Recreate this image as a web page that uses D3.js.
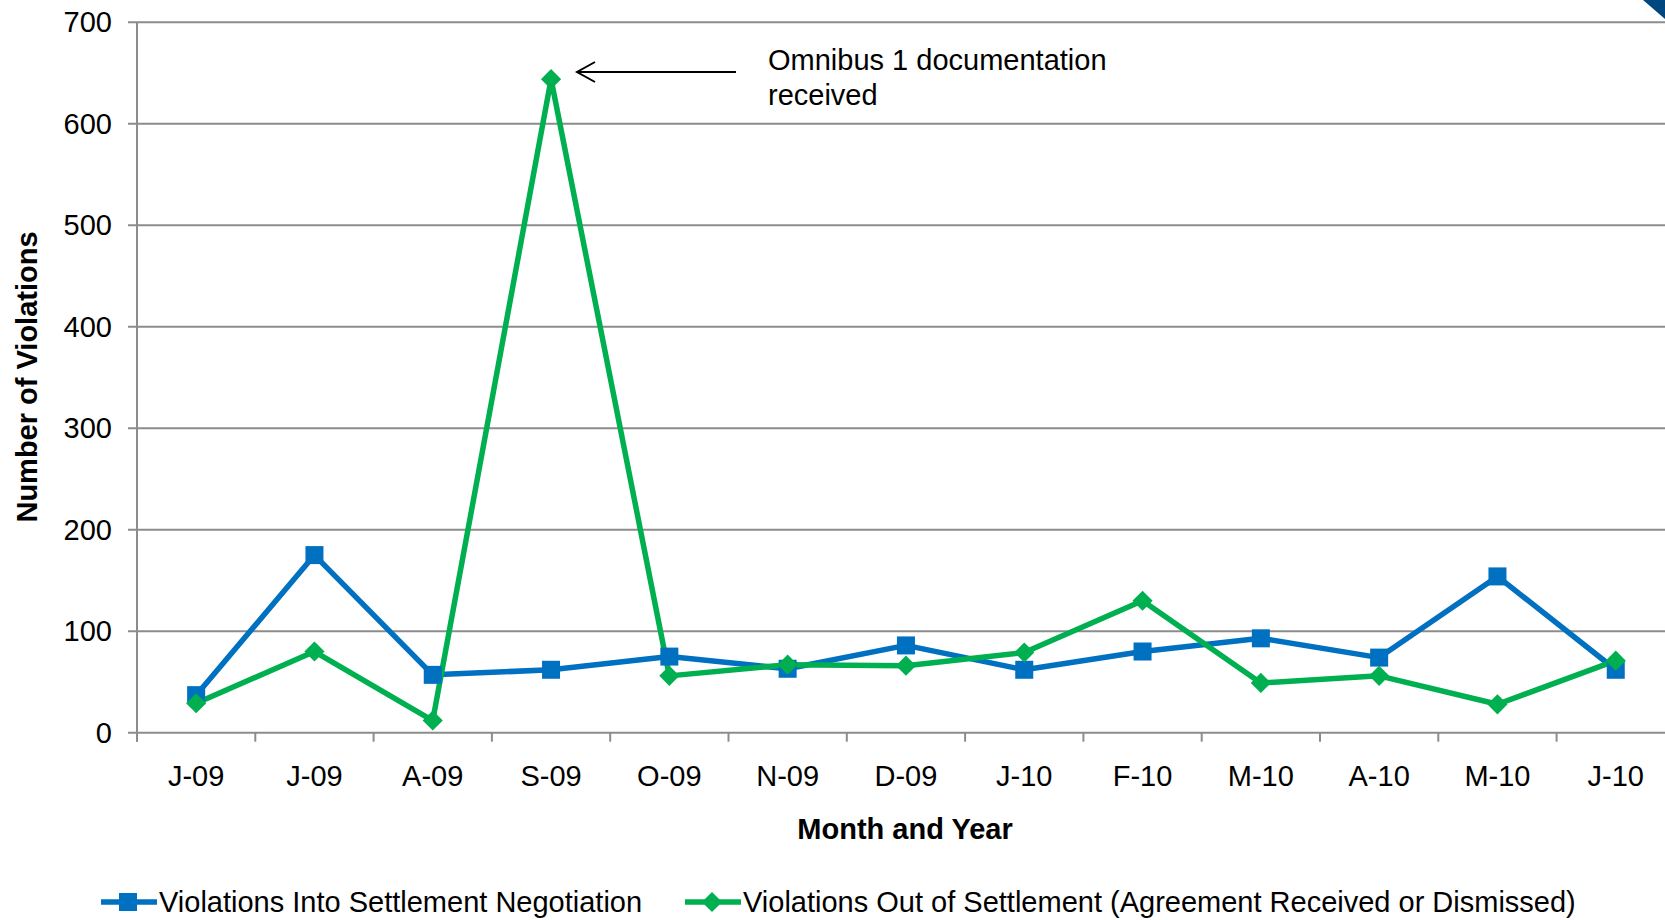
<!DOCTYPE html>
<html lang="en">
<head>
  <meta charset="utf-8">
  <title>Violations</title>
  <script type="text/javascript" src="https://cdn.jsdelivr.net/npm/d3@7/dist/d3.min.js"></script>
  <style>
    body { margin: 0; background: #fff; }
    text { font-family: "Liberation Sans", Arial, sans-serif; fill: #000; }
  </style>
</head>
<body>
  <script type="text/javascript">

  // month labels (Excel style short labels)
  var months = ["J-09", "J-09", "A-09", "S-09", "O-09", "N-09", "D-09",
                "J-10", "F-10", "M-10", "A-10", "M-10", "J-10"];
  var intoSettlement = [37, 175, 57, 62, 75, 63, 86, 62, 80, 93, 74, 154, 62];
  var outOfSettlement = [29, 80, 12, 644, 56, 67, 66, 79, 130, 49, 56, 28, 71];
  var yTicks = [0, 100, 200, 300, 400, 500, 600, 700];
  var seriesNames = ["Violations Into Settlement Negotiation",
                     "Violations Out of Settlement (Agreement Received or Dismissed)"];
  var colors = ["#0070C0", "#00B050"];

  var width = 1665, height = 920;
  var plotLeft = 137, plotTop = 22.3, plotBottom = 732.7;
  var band = 118.3;

  var svg = d3.select("body").append("svg")
    .attr("width", width)
    .attr("height", height);

  var idx = d3.range(months.length);
  var x = d3.scaleBand()
    .domain(idx)
    .range([plotLeft, plotLeft + band * months.length]);
  var y = d3.scaleLinear()
    .domain([0, 700])
    .range([plotBottom, plotTop]);
  var cx = function(i) { return x(i) + x.bandwidth() / 2; };

  // gridlines
  svg.append("g")
    .selectAll("line")
    .data(yTicks)
    .enter().append("line")
    .attr("x1", plotLeft - 9)
    .attr("x2", width)
    .attr("y1", d => y(d))
    .attr("y2", d => y(d))
    .attr("stroke", "#8c8c8c")
    .attr("stroke-width", 2);

  // y axis line
  svg.append("line")
    .attr("x1", plotLeft).attr("x2", plotLeft)
    .attr("y1", plotTop).attr("y2", plotBottom + 9)
    .attr("stroke", "#8c8c8c")
    .attr("stroke-width", 2);

  // category boundary ticks
  svg.append("g")
    .selectAll("line")
    .data(d3.range(months.length + 1))
    .enter().append("line")
    .attr("x1", d => plotLeft + d * x.step())
    .attr("x2", d => plotLeft + d * x.step())
    .attr("y1", plotBottom)
    .attr("y2", plotBottom + 9)
    .attr("stroke", "#8c8c8c")
    .attr("stroke-width", 2);

  // y tick labels
  svg.append("g")
    .selectAll("text")
    .data(yTicks)
    .enter().append("text")
    .attr("x", 112)
    .attr("y", d => y(d))
    .attr("dy", "0.35em")
    .attr("text-anchor", "end")
    .attr("font-size", "29px")
    .text(d => d);

  // x tick labels
  svg.append("g")
    .selectAll("text")
    .data(idx)
    .enter().append("text")
    .attr("x", d => cx(d))
    .attr("y", 776)
    .attr("dy", "0.35em")
    .attr("text-anchor", "middle")
    .attr("font-size", "29px")
    .text(d => months[d]);

  // axis titles
  svg.append("text")
    .attr("x", 905)
    .attr("y", 829)
    .attr("dy", "0.35em")
    .attr("text-anchor", "middle")
    .attr("font-size", "29px")
    .attr("font-weight", "bold")
    .text("Month and Year");

  svg.append("text")
    .attr("transform", "translate(27,377) rotate(-90)")
    .attr("dy", "0.35em")
    .attr("text-anchor", "middle")
    .attr("font-size", "29px")
    .attr("font-weight", "bold")
    .text("Number of Violations");

  var line = d3.line()
    .x((d, i) => cx(i))
    .y(d => y(d));

  // series lines
  [intoSettlement, outOfSettlement].forEach(function(vals, s) {
    svg.append("path")
      .datum(vals)
      .attr("fill", "none")
      .attr("stroke", colors[s])
      .attr("stroke-width", 5.5)
      .attr("stroke-linejoin", "round")
      .attr("d", line);
  });

  // markers
  svg.append("g")
    .selectAll("rect")
    .data(intoSettlement)
    .enter().append("rect")
    .attr("x", (d, i) => cx(i) - 9)
    .attr("y", d => y(d) - 9)
    .attr("width", 18)
    .attr("height", 18)
    .attr("fill", colors[0]);

  var diamond = d3.symbol().type(d3.symbolDiamond2).size(260);
  svg.append("g")
    .selectAll("path")
    .data(outOfSettlement)
    .enter().append("path")
    .attr("transform", (d, i) => "translate(" + cx(i) + "," + y(d) + ")")
    .attr("d", diamond)
    .attr("fill", colors[1]);

  // annotation
  var ay = 72;
  svg.append("line")
    .attr("x1", 736).attr("x2", 577)
    .attr("y1", ay).attr("y2", ay)
    .attr("stroke", "#000").attr("stroke-width", 2);
  svg.append("path")
    .attr("d", "M595," + (ay - 10) + " L577," + ay + " L595," + (ay + 10))
    .attr("fill", "none")
    .attr("stroke", "#000")
    .attr("stroke-width", 2);
  svg.append("text")
    .attr("x", 768).attr("y", 60)
    .attr("dy", "0.35em")
    .attr("font-size", "29px")
    .text("Omnibus 1 documentation");
  svg.append("text")
    .attr("x", 768).attr("y", 95)
    .attr("dy", "0.35em")
    .attr("font-size", "29px")
    .text("received");

  // legend
  var legendX = [101, 685];
  var legend = svg.append("g")
    .selectAll("g")
    .data(seriesNames)
    .enter().append("g")
    .attr("transform", (d, i) => "translate(" + legendX[i] + ",902)");
  legend.append("line")
    .attr("x1", 0).attr("x2", 56)
    .attr("y1", 0).attr("y2", 0)
    .attr("stroke", (d, i) => colors[i])
    .attr("stroke-width", 5.5);
  legend.filter((d, i) => i === 0).append("rect")
    .attr("x", 18).attr("y", -9)
    .attr("width", 18).attr("height", 18)
    .attr("fill", colors[0]);
  legend.filter((d, i) => i === 1).append("path")
    .attr("transform", "translate(27,0)")
    .attr("d", diamond)
    .attr("fill", colors[1]);
  legend.append("text")
    .attr("x", 58)
    .attr("dy", "0.35em")
    .attr("font-size", "29px")
    .text(d => d);

  // corner decoration
  svg.append("path")
    .attr("d", "M1643,0 L1665,0 L1665,19 Z")
    .attr("fill", "#00467f");

  </script>
</body>
</html>
